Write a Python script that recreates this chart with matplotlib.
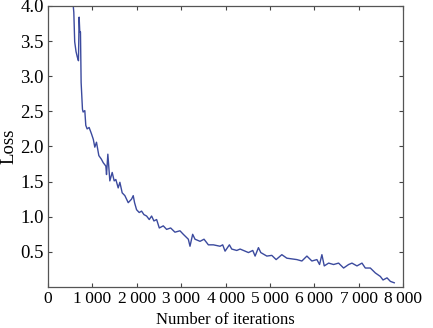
import matplotlib
matplotlib.use("Agg")
import matplotlib.pyplot as plt
from matplotlib.ticker import FixedLocator, FuncFormatter

iterations = [560, 580, 600, 630, 660, 685, 700, 715, 730, 745, 775, 790, 828, 850, 880, 925, 978,
              1020, 1053, 1091, 1144, 1200, 1242, 1302, 1317, 1347, 1392, 1445, 1490, 1527, 1580, 1618,
              1670, 1731, 1806, 1881, 1919, 1949, 1994, 2054, 2107, 2160, 2220, 2280, 2333, 2385, 2446,
              2506, 2596, 2671, 2762, 2859, 2972, 3047, 3160, 3198, 3258, 3311, 3424, 3514, 3612, 3725,
              3800, 3875, 3935, 3988, 4086, 4138, 4251, 4327, 4440, 4515, 4612, 4665, 4740, 4793, 4929,
              5041, 5139, 5267, 5380, 5493, 5606, 5719, 5832, 5944, 6057, 6117, 6170, 6223, 6321, 6433,
              6546, 6659, 6772, 6847, 6960, 7073, 7148, 7261, 7374, 7487, 7547, 7637, 7713, 7800]
loss = [4.05, 3.91, 3.49, 3.35, 3.27, 3.22, 3.84, 3.63, 3.63, 2.91, 2.53, 2.49, 2.51, 2.30, 2.25, 2.27, 2.18,
        2.10, 1.99, 2.06, 1.87, 1.82, 1.77, 1.72, 1.60, 1.89, 1.51, 1.63, 1.51, 1.53, 1.41, 1.49,
        1.34, 1.30, 1.20, 1.25, 1.30, 1.20, 1.10, 1.06, 1.08, 1.03, 1.01, 0.96, 1.01, 0.94, 0.96,
        0.84, 0.87, 0.82, 0.84, 0.78, 0.80, 0.75, 0.68, 0.58, 0.75, 0.68, 0.65, 0.68, 0.60, 0.60,
        0.59, 0.58, 0.60, 0.51, 0.60, 0.54, 0.52, 0.54, 0.51, 0.49, 0.52, 0.44, 0.56, 0.49, 0.44,
        0.45, 0.39, 0.46, 0.41, 0.40, 0.39, 0.37, 0.44, 0.37, 0.39, 0.32, 0.46, 0.30, 0.34, 0.32,
        0.34, 0.27, 0.32, 0.34, 0.30, 0.34, 0.27, 0.27, 0.20, 0.15, 0.10, 0.13, 0.08, 0.06]

x_ticks = [0, 1000, 2000, 3000, 4000, 5000, 6000, 7000, 8000]
y_ticks = [0.5, 1.0, 1.5, 2.0, 2.5, 3.0, 3.5, 4.0]

plt.rcParams['font.family'] = ['Liberation Serif', 'DejaVu Serif']

fig = plt.figure(figsize=(4.33, 3.28), dpi=100)
ax = fig.add_axes([0.111, 0.125, 0.820, 0.857])
ax.plot(iterations, loss, color='#3b4a9e', lw=1.0)
ax.set_xlim(0, 8000)
ax.set_ylim(0, 4.0)
ax.xaxis.set_major_locator(FixedLocator(x_ticks))
ax.yaxis.set_major_locator(FixedLocator(y_ticks))

def fmt_x(v, pos):
    n = int(round(v))
    if n < 1000:
        return str(n)
    return f"{n // 1000}\u2009{n % 1000:03d}"

ax.xaxis.set_major_formatter(FuncFormatter(fmt_x))
ax.yaxis.set_major_formatter(FuncFormatter(lambda v, p: f"{v:.1f}"))
ax.tick_params(direction='in', top=True, right=True, length=3, width=0.8,
               color='#444444')
ax.tick_params(axis='x', pad=3, labelsize=12.5)
ax.tick_params(axis='y', pad=3, labelsize=13.5)
for s in ax.spines.values():
    s.set_color('#555555')
    s.set_linewidth(0.9)
pos = ax.get_position()
fig.text((pos.x0 + pos.x1) / 2, 0.0, 'Number of iterations', fontsize=12,
         ha='center', va='bottom')
fig.text(0.0, (pos.y0 + pos.y1) / 2, 'Loss', fontsize=13.5, rotation=90,
         ha='left', va='center')
fig.savefig('out.png', dpi=100)
